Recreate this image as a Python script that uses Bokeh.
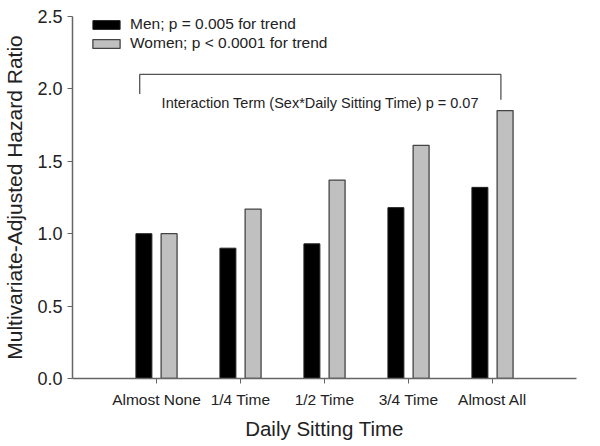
from bokeh.plotting import figure
from bokeh.models import FixedTicker, Legend, LegendItem, Range1d
from bokeh.embed import file_html
from bokeh.resources import INLINE
from bokeh.core.properties import value

categories = ["Almost None", "1/4 Time", "1/2 Time", "3/4 Time", "Almost All"]
men = [1.00, 0.90, 0.93, 1.18, 1.32]
women = [1.00, 1.17, 1.37, 1.61, 1.85]
y_ticks = [0.0, 0.5, 1.0, 1.5, 2.0, 2.5]
men_label = "Men; p = 0.005 for trend"
women_label = "Women; p < 0.0001 for trend"
note = "Interaction Term (Sex*Daily Sitting Time) p = 0.07"

FONT = "Liberation Sans"
pos = list(range(1, len(categories) + 1))
off = 0.15
bw = 0.19

p = figure(frame_width=504, frame_height=362, output_backend="svg",
           toolbar_location=None, x_range=Range1d(0, 6), y_range=Range1d(0, 2.5),
           min_border_left=71, min_border_right=25, min_border_top=16,
           min_border_bottom=68)
p.outline_line_color = None
p.grid.visible = False

r_men = p.vbar(x=[x - off for x in pos], top=men, width=bw, bottom=0,
               fill_color="black", line_color="#222222", line_width=1)
r_women = p.vbar(x=[x + off for x in pos], top=women, width=bw, bottom=0,
                 fill_color="#c0c0c0", line_color="#444444", line_width=1.3)

# bracket annotation
p.line(x=[0.80, 0.80, 5.10, 5.10], y=[1.965, 2.10, 2.10, 1.925],
       line_color="#555555", line_width=1.3)
p.text(x=[2.95], y=[1.906], text=[note], text_font=value(FONT),
       text_font_size="14.5px", text_align="center", text_baseline="middle",
       text_color="#222222")

legend = Legend(items=[LegendItem(label=men_label, renderers=[r_men]),
                       LegendItem(label=women_label, renderers=[r_women])],
                location=(17, 326), orientation="vertical",
                glyph_width=34, glyph_height=11, label_height=16,
                spacing=1, padding=0, margin=0, label_standoff=7,
                label_text_font=FONT, label_text_font_size="15.5px",
                label_text_color="#222222",
                border_line_color=None, background_fill_alpha=0)
p.add_layout(legend)

xa = p.xaxis[0]
xa.ticker = FixedTicker(ticks=pos)
xa.major_label_overrides = {i: c for i, c in zip(pos, categories)}
xa.axis_label = "Daily Sitting Time"
ya = p.yaxis[0]
ya.ticker = FixedTicker(ticks=y_ticks)
ya.major_label_overrides = {t: f"{t:.1f}" for t in y_ticks}
ya.axis_label = "Multivariate-Adjusted Hazard Ratio"

for ax in (xa, ya):
    ax.axis_line_color = "#666666"
    ax.axis_line_width = 1.5
    ax.major_tick_line_color = "#666666"
    ax.major_tick_in = 0
    ax.major_tick_out = 5
    ax.minor_tick_line_color = None
    ax.major_label_text_font = FONT
    ax.major_label_text_color = "#222222"
    ax.axis_label_text_font = FONT
    ax.axis_label_text_font_style = "normal"
    ax.axis_label_text_color = "#222222"

xa.major_label_text_font_size = "15.5px"
xa.major_label_standoff = 7
xa.axis_label_standoff = 6
xa.axis_label_text_font_size = "20.5px"
ya.major_label_text_font_size = "18px"
ya.major_label_standoff = 5
ya.axis_label_standoff = 8
ya.axis_label_text_font_size = "21px"

open("out.html", "w").write(file_html(p, INLINE))
